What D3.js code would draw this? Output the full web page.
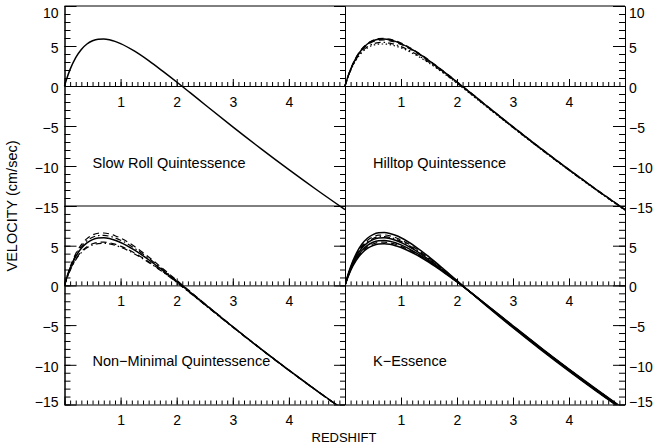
<!DOCTYPE html>
<html><head><meta charset="utf-8">
<script src="https://cdn.jsdelivr.net/npm/d3@7"></script>
<style>
html,body{margin:0;padding:0;background:#fff;}
svg{display:block;font-family:"Liberation Sans",Arial,Helvetica,sans-serif;}
</style></head><body>
<svg id="chart" width="659" height="444"></svg>
<script>
// ---------------- data ----------------
const redshift = [0, 0.05, 0.1, 0.2, 0.3, 0.4, 0.5, 0.6, 0.7, 0.8, 0.9, 1.0, 1.25, 1.5, 1.75, 2.0, 2.25, 2.5, 3.0, 3.5, 4.0, 4.5, 5.0];

const slowRoll  = [0, 1.12, 2.08, 3.55, 4.57, 5.25, 5.65, 5.85, 5.88, 5.78, 5.58, 5.30, 4.35, 3.17, 1.86, 0.50, -0.90, -2.31, -5.11, -7.83, -10.46, -13.00, -15.45];

const hilltopA  = [0, 1.12, 2.08, 3.55, 4.57, 5.25, 5.65, 5.85, 5.88, 5.78, 5.58, 5.30, 4.35, 3.17, 1.86, 0.50, -0.90, -2.31, -5.11, -7.83, -10.46, -13.00, -15.45];
const hilltopB  = [0, 1.13, 2.10, 3.59, 4.63, 5.31, 5.72, 5.92, 5.95, 5.85, 5.65, 5.37, 4.41, 3.22, 1.90, 0.53, -0.88, -2.29, -5.09, -7.81, -10.44, -12.98, -15.43];
const hilltopC  = [0, 1.10, 2.05, 3.49, 4.49, 5.15, 5.54, 5.73, 5.75, 5.65, 5.46, 5.19, 4.26, 3.11, 1.82, 0.46, -0.93, -2.34, -5.14, -7.86, -10.49, -13.03, -15.48];
const hilltopD  = [0, 1.06, 1.98, 3.35, 4.29, 4.90, 5.26, 5.43, 5.45, 5.36, 5.18, 4.93, 4.06, 2.96, 1.71, 0.38, -1.00, -2.40, -5.18, -7.90, -10.52, -13.06, -15.50];
const hilltopE  = [0, 1.04, 1.94, 3.27, 4.18, 4.76, 5.10, 5.24, 5.25, 5.17, 5.00, 4.77, 3.93, 2.87, 1.65, 0.33, -1.04, -2.44, -5.21, -7.92, -10.54, -13.08, -15.53];

const nonMinA   = [0, 1.15, 2.12, 3.62, 4.67, 5.35, 5.77, 5.97, 6.00, 5.90, 5.69, 5.41, 4.44, 3.23, 1.90, 0.51, -0.92, -2.36, -5.21, -7.99, -10.67, -13.27, -15.77];
const nonMinB   = [0, 1.26, 2.33, 3.98, 5.13, 5.89, 6.35, 6.57, 6.60, 6.49, 6.26, 5.96, 4.90, 3.58, 2.13, 0.65, -0.82, -2.30, -5.18, -7.98, -10.67, -13.27, -15.79];
const nonMinC   = [0, 1.20, 2.23, 3.80, 4.90, 5.62, 6.06, 6.27, 6.30, 6.20, 5.98, 5.69, 4.67, 3.41, 2.02, 0.58, -0.87, -2.33, -5.20, -7.99, -10.68, -13.28, -15.79];
const nonMinD   = [0, 1.04, 1.94, 3.30, 4.25, 4.87, 5.24, 5.42, 5.45, 5.37, 5.19, 4.94, 4.07, 2.98, 1.75, 0.42, -0.99, -2.42, -5.25, -8.02, -10.70, -13.29, -15.80];
const nonMinE   = [0, 1.01, 1.88, 3.21, 4.13, 4.73, 5.09, 5.27, 5.30, 5.22, 5.05, 4.81, 3.96, 2.90, 1.70, 0.38, -1.02, -2.45, -5.27, -8.03, -10.71, -13.30, -15.80];

const kEssA     = [0, 1.27, 2.35, 4.01, 5.18, 5.94, 6.40, 6.62, 6.65, 6.54, 6.31, 6.00, 4.93, 3.60, 2.13, 0.60, -0.93, -2.42, -5.33, -8.12, -10.80, -13.38, -15.88];
const kEssB     = [0, 1.00, 1.86, 3.15, 4.06, 4.66, 5.03, 5.22, 5.25, 5.17, 5.00, 4.77, 3.95, 2.90, 1.71, 0.43, -0.90, -2.28, -5.08, -7.85, -10.53, -13.13, -15.65];
const kEssC     = [0, 1.15, 2.12, 3.62, 4.67, 5.35, 5.77, 5.97, 6.00, 5.90, 5.69, 5.41, 4.44, 3.23, 1.90, 0.51, -0.92, -2.36, -5.21, -7.99, -10.67, -13.27, -15.77];
const kEssD     = [0, 1.08, 2.00, 3.40, 4.38, 5.03, 5.43, 5.62, 5.65, 5.56, 5.37, 5.10, 4.20, 3.07, 1.80, 0.47, -0.92, -2.33, -5.14, -7.92, -10.60, -13.20, -15.70];
const kEssE     = [0, 1.21, 2.24, 3.83, 4.95, 5.67, 6.11, 6.32, 6.35, 6.25, 6.03, 5.73, 4.71, 3.44, 2.04, 0.57, -0.91, -2.39, -5.28, -8.06, -10.75, -13.34, -15.84];
const kEssF     = [0, 1.04, 1.93, 3.28, 4.22, 4.84, 5.22, 5.42, 5.45, 5.36, 5.18, 4.92, 4.06, 2.98, 1.76, 0.45, -0.91, -2.30, -5.10, -7.88, -10.56, -13.16, -15.67];
const kEssG     = [0, 1.17, 2.17, 3.71, 4.79, 5.49, 5.91, 6.12, 6.15, 6.05, 5.84, 5.55, 4.56, 3.33, 1.97, 0.54, -0.92, -2.37, -5.24, -8.03, -10.72, -13.32, -15.80];

const panelTitles = ["Slow Roll Quintessence", "Hilltop Quintessence", "Non\u2212Minimal Quintessence", "K\u2212Essence"];
const panelSeries = [
  [slowRoll],
  [hilltopA, hilltopB, hilltopC, hilltopD, hilltopE],
  [nonMinA, nonMinB, nonMinC, nonMinD, nonMinE],
  [kEssA, kEssB, kEssC, kEssD, kEssE, kEssF, kEssG]
];
const xMajorTicks = [0, 1, 2, 3, 4, 5];
const xLabelTicks = [1, 2, 3, 4];
const yTicksTop = [-15, -10, -5, 0, 5, 10];
const yTicksBottom = [-15, -10, -5, 0, 5];
const xTitle = "REDSHIFT";
const yTitle = "VELOCITY (cm/sec)";

// ---------------- styles / layout ----------------
const dashes = {solid: null, dashed: "6,4", dashdot: "6,3,1.5,3", dotted: "1.5,2.5"};
const panelStyles = [
  ["solid"],
  ["solid", "dashed", "dashed", "dashdot", "dotted"],
  ["solid", "dashed", "dashdot", "dashed", "dashdot"],
  ["solid", "solid", "solid", "solid", "dashed", "dashed", "dashdot"]
];
const cols = [{x0: 64.5, x1: 345}, {x0: 345, x1: 625}];
const rows = [{y0: 6, y1: 206}, {y0: 206, y1: 404.5}];
const FS = 14;

const svg = d3.select("#chart");
const xMinor = d3.range(0, 51).map(i => i / 10);
const yMinor = d3.range(-15, 11);

function styleAxis(sel) {
  sel.attr("font-size", FS).attr("font-family", null);
  sel.selectAll("path.domain").attr("stroke", "#000").attr("stroke-width", 1);
  sel.selectAll("line").attr("stroke", "#000").attr("stroke-width", 1);
  sel.selectAll("text").attr("fill", "#000");
}

[0, 1].forEach(r => {
  [0, 1].forEach(c => {
    const idx = r * 2 + c;
    const {x0, x1} = cols[c];
    const {y0, y1} = rows[r];
    const x = d3.scaleLinear().domain([0, 5]).range([x0, x1]);
    const y = d3.scaleLinear().domain([-15, 10]).range([y1, y0]);
    const g = svg.append("g");

    if (r === 0) {
      g.append("line").attr("x1", x0).attr("x2", x1).attr("y1", y0).attr("y2", y0).attr("stroke", "#000");
      g.append("line").attr("x1", x0).attr("x2", x1).attr("y1", y1).attr("y2", y1).attr("stroke", "#000");
    }

    const xAxisYs = r === 0 ? [y(0)] : [y(0), y(-15)];
    xAxisYs.forEach(ay => {
      g.append("g").attr("transform", `translate(0,${ay})`)
        .call(d3.axisBottom(x).tickValues(xMinor).tickSizeInner(-4).tickSizeOuter(0).tickFormat(""))
        .call(styleAxis);
      g.append("g").attr("transform", `translate(0,${ay})`)
        .call(d3.axisBottom(x).tickValues(xMajorTicks).tickSizeInner(-7).tickSizeOuter(0).tickPadding(11)
          .tickFormat(d => xLabelTicks.includes(d) ? String(d) : ""))
        .call(styleAxis)
        .call(s => s.select("path.domain").remove());
    });

    const yLabelTicks = r === 0 ? yTicksTop : yTicksBottom;
    const clampBase = d => Math.min(Math.max(y(d) + 6.5, 17), 406);

    if (c === 0) {
      g.append("g").attr("transform", `translate(${x0},0)`)
        .call(d3.axisLeft(y).tickValues(yMinor).tickSizeInner(-6).tickSizeOuter(0).tickFormat(""))
        .call(styleAxis);
      g.append("g").attr("transform", `translate(${x0},0)`)
        .call(d3.axisLeft(y).tickValues(yTicksTop).tickSizeInner(-12).tickSizeOuter(0).tickPadding(6)
          .tickFormat(d => yLabelTicks.includes(d) ? d3.format("d")(d).replace("-", "\u2212") : ""))
        .call(styleAxis)
        .call(s => s.selectAll("text").attr("dy", null).attr("y", d => clampBase(d) - y(d)));
      g.append("g").attr("transform", `translate(${x1},0)`)
        .call(d3.axisLeft(y).tickValues(yMinor).tickSizeInner(5).tickSizeOuter(0).tickFormat(""))
        .call(styleAxis);
      g.append("g").attr("transform", `translate(${x1},0)`)
        .call(d3.axisLeft(y).tickValues(yTicksTop).tickSizeInner(11).tickSizeOuter(0).tickFormat(""))
        .call(styleAxis);
    } else {
      g.append("g").attr("transform", `translate(${x1},0)`)
        .call(d3.axisRight(y).tickValues(yMinor).tickSizeInner(-6).tickSizeOuter(0).tickFormat(""))
        .call(styleAxis);
      g.append("g").attr("transform", `translate(${x1},0)`)
        .call(d3.axisRight(y).tickValues(yTicksTop).tickSizeInner(-12).tickSizeOuter(0).tickPadding(4)
          .tickFormat(d => yLabelTicks.includes(d) ? d3.format("d")(d).replace("-", "\u2212") : ""))
        .call(styleAxis)
        .call(s => s.selectAll("text").attr("dy", null).attr("y", d => clampBase(d) - y(d)));
    }

    let lineLayer = g.append("g");
    if (r === 1) {
      const id = "clip" + idx;
      svg.append("clipPath").attr("id", id).append("rect")
        .attr("x", x0).attr("y", y0).attr("width", x1 - x0).attr("height", y1 - y0);
      lineLayer.attr("clip-path", `url(#${id})`);
    }

    const line = d3.line()
      .x((d, i) => x(redshift[i]))
      .y(d => y(d))
      .curve(d3.curveMonotoneX);

    panelSeries[idx].forEach((s, k) => {
      const st = panelStyles[idx][k];
      lineLayer.append("path")
        .attr("d", line(s))
        .attr("fill", "none")
        .attr("stroke", "#000")
        .attr("stroke-width", st === "solid" ? 1.5 : 1.2)
        .attr("stroke-dasharray", dashes[st]);
    });

    g.append("text")
      .attr("x", x0 + 28)
      .attr("y", y(-10) + 1.5)
      .attr("font-size", 14.5)
      .attr("fill", "#000")
      .text(panelTitles[idx]);
  });
});

svg.append("text")
  .attr("x", 344).attr("y", 442)
  .attr("text-anchor", "middle")
  .attr("font-size", 13)
  .text(xTitle);

svg.append("text")
  .attr("transform", "translate(17,206) rotate(-90)")
  .attr("text-anchor", "middle")
  .attr("font-size", 14.5)
  .text(yTitle);
</script>
</body></html>
